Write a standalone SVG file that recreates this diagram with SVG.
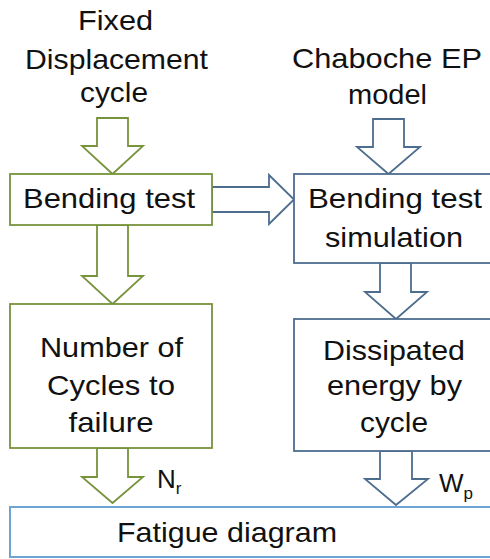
<svg xmlns="http://www.w3.org/2000/svg" width="490" height="559" viewBox="0 0 490 559">
<style>
text{font-family:"Liberation Sans",Arial,sans-serif;font-size:28px;fill:#111;text-anchor:middle}
.g{fill:#fff;stroke:#77933c;stroke-width:1.8}
.b{fill:#fff;stroke:#4d6d8e;stroke-width:1.8}
.lb{fill:#fff;stroke:#6fa3d3;stroke-width:2}
.sub{font-size:17px;text-anchor:start}
.lab{font-size:26px;text-anchor:start}
</style>
<rect width="490" height="559" fill="#fff"/>
<g id="input-fixed">
<text x="115.5" y="30" textLength="75" lengthAdjust="spacingAndGlyphs">Fixed</text>
<text x="116.5" y="69" textLength="183" lengthAdjust="spacingAndGlyphs">Displacement</text>
<text x="114" y="102" textLength="68" lengthAdjust="spacingAndGlyphs">cycle</text>
</g>
<g id="input-chaboche">
<text x="387" y="68" textLength="190" lengthAdjust="spacingAndGlyphs">Chaboche EP</text>
<text x="387.5" y="104" textLength="79" lengthAdjust="spacingAndGlyphs">model</text>
</g>
<g id="connectors">
<polygon class="g" points="97,118 128,118 128,146 143,146 112.5,174 82,146 97,146"/>
<polygon class="g" points="97,225 128,225 128,276 143,276 112.5,304 82,276 97,276"/>
<polygon class="g" points="97,448 128,448 128,477 143,477 112.5,503 82,477 97,477"/>
<polygon class="b" points="373,119 404,119 404,147 420,147 388.5,174 357,147 373,147"/>
<polygon class="b" points="212,187 269,187 269,175 294,199.5 269,224 269,212 212,212"/>
<polygon class="b" points="380,263 411,263 411,292 427,292 396,319 365,292 380,292"/>
<polygon class="b" points="380,451 412,451 412,479 428,479 396,505 365,479 380,479"/>
<text class="lab" x="157" y="488">N<tspan class="sub" dy="6">r</tspan></text>
<text class="lab" x="439" y="492">W<tspan class="sub" dy="7">p</tspan></text>
</g>
<g id="bending-test">
<rect class="g" x="10" y="174" width="202" height="51"/>
<text x="109" y="208" textLength="172" lengthAdjust="spacingAndGlyphs">Bending test</text>
</g>
<g id="bending-sim">
<rect class="b" x="294" y="174" width="200" height="89"/>
<text x="395" y="208" textLength="174" lengthAdjust="spacingAndGlyphs">Bending test</text>
<text x="394" y="247" textLength="138" lengthAdjust="spacingAndGlyphs">simulation</text>
</g>
<g id="cycles-to-failure">
<rect class="g" x="10" y="304" width="202" height="144"/>
<text x="111.5" y="357" textLength="143" lengthAdjust="spacingAndGlyphs">Number of</text>
<text x="111" y="395" textLength="128" lengthAdjust="spacingAndGlyphs">Cycles to</text>
<text x="111" y="432" textLength="85" lengthAdjust="spacingAndGlyphs">failure</text>
</g>
<g id="dissipated-energy">
<rect class="b" x="294" y="319" width="200" height="132"/>
<text x="394" y="360" textLength="142" lengthAdjust="spacingAndGlyphs">Dissipated</text>
<text x="394.5" y="395" textLength="135" lengthAdjust="spacingAndGlyphs">energy by</text>
<text x="394" y="432" textLength="68" lengthAdjust="spacingAndGlyphs">cycle</text>
</g>
<g id="fatigue-diagram">
<rect class="lb" x="10" y="507" width="490" height="50"/>
<text x="227" y="542" textLength="220" lengthAdjust="spacingAndGlyphs">Fatigue diagram</text>
</g>
</svg>
